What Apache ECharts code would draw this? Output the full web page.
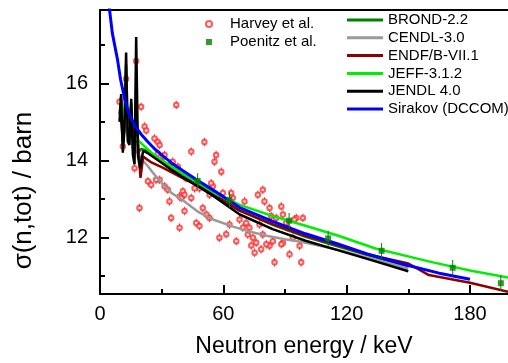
<!DOCTYPE html>
<html><head><meta charset="utf-8">
<script src="https://cdn.jsdelivr.net/npm/echarts@6/dist/echarts.min.js"></script>
<style>html,body{margin:0;padding:0;background:#fff}#c{width:508px;height:363px}</style>
</head><body><div id="c"></div>
<script>
// ---- data ----
const xTicks = [0, 60, 120, 180];
const xMinor = [30, 90, 150];
const yTicks = [12, 14, 16];
const yMinor = [11, 13, 15, 17];

const siraX = [4.2, 6, 8.5, 10, 12, 14, 17, 20, 23, 27, 31, 35, 40, 47, 56, 68, 84, 100, 115, 130, 150, 165, 180];
const siraY = [18.1, 17.3, 16.62, 16.1, 15.6, 15.22, 14.9, 14.68, 14.5, 14.28, 14.1, 13.93, 13.75, 13.5, 13.2, 12.78, 12.42, 12.1, 11.85, 11.58, 11.28, 11.08, 10.92];

const jeffX = [10, 12, 14, 17, 20, 25, 30, 40, 48, 56, 68, 84, 100, 116, 134, 162, 180, 198.5];
const jeffY = [15.5, 15.1, 14.85, 14.62, 14.45, 14.2, 14.0, 13.67, 13.42, 13.15, 12.85, 12.56, 12.31, 12.05, 11.72, 11.36, 11.15, 10.97];

const jendlX = [9.5, 10.3, 11.1, 11.9, 12.7, 13.5, 14.3, 15.2, 16.0, 16.8, 17.6, 18.5, 19.5, 21, 23, 27, 31, 35, 40, 48, 56, 68, 84, 100, 116, 130, 150];
const jendlY = [15.0, 15.72, 14.2, 14.8, 16.8, 14.5, 14.4, 15.6, 14.15, 13.9, 17.2, 14.1, 13.8, 14.25, 14.2, 14.05, 13.9, 13.75, 13.58, 13.32, 13.05, 12.6, 12.22, 11.92, 11.67, 11.45, 11.13];

const brondX = [9.5, 10.3, 11.1, 11.9, 12.7, 13.5, 15.2, 16.0, 17.6, 18.5, 20, 23, 27, 31, 40, 48, 56, 68, 84, 100, 116, 130, 150];
const brondY = [15.2, 15.6, 14.4, 14.9, 16.5, 14.7, 15.5, 14.3, 15.0, 14.2, 14.3, 14.25, 14.1, 13.97, 13.65, 13.4, 13.12, 12.7, 12.33, 12.02, 11.77, 11.55, 11.25];

const endfX = [10, 11.1, 12.7, 14, 15.2, 16.8, 17.6, 19.7, 21, 25, 31, 40, 48, 56, 68, 84, 100, 116, 130, 150, 160, 180, 198.5];
const endfY = [15.2, 14.5, 15.6, 14.5, 15.2, 14.2, 15.2, 13.55, 14.1, 13.95, 13.8, 13.55, 13.33, 13.08, 12.7, 12.35, 12.05, 11.8, 11.57, 11.33, 11.03, 10.83, 10.6];

const cendlX = [10.5, 11.5, 13.4, 15, 17, 20, 23, 27, 31, 35, 40, 48, 56, 64, 72, 81, 90, 97, 107, 117, 130, 150];
const cendlY = [15.2, 15.0, 14.64, 14.45, 14.3, 14.05, 13.87, 13.6, 13.36, 13.15, 12.98, 12.66, 12.45, 12.3, 12.17, 12.05, 11.96, 11.9, 11.79, 11.67, 11.48, 11.2];

const harveyX = [17.6, 12.7, 9.5, 20.0, 37.1, 21.7, 22.5, 26.5, 28.1, 29.0, 50.8, 44.4, 56.5, 55.7, 34.6, 37.9, 16.8, 37.1, 59.0, 43.6, 23.3, 24.9, 29.0, 31.4, 33.0, 48.4, 54.9, 53.3, 59.8, 63.8, 64.6, 79.2, 76.8, 70.3, 40.3, 38.7, 44.4, 19.2, 34.6, 38.7, 41.1, 50.0, 51.7, 46.8, 48.4, 53.3, 58.1, 61.4, 66.3, 67.9, 71.1, 72.7, 74.4, 75.2, 78.4, 82.5, 83.3, 85.7, 88.2, 89.0, 90.6, 91.4, 93.8, 95.5, 98.7, 97.1, 84.1, 82.5, 84.9, 92.2, 97.9, 89.0, 79.2, 76.0, 69.5, 63.0, 80.0, 94.6, 77.6, 71.9, 73.6, 80.9, 88.2, 28.1, 30.6, 35.4, 41.9, 46.0, 54.1, 41.1, 39.5, 33.8, 27.3, 11.1, 31.4];
const harveyY = [16.58, 16.11, 15.52, 15.39, 15.44, 14.88, 14.78, 14.57, 14.48, 14.40, 14.48, 14.23, 14.14, 13.97, 13.93, 13.84, 13.80, 13.75, 13.71, 13.54, 13.46, 13.37, 13.50, 13.33, 13.24, 13.28, 13.33, 13.11, 13.16, 13.16, 13.03, 13.24, 13.11, 12.94, 13.20, 13.07, 13.03, 12.77, 12.51, 12.26, 12.69, 12.77, 12.60, 12.38, 12.30, 12.51, 12.00, 12.09, 11.91, 12.47, 12.38, 12.26, 12.00, 11.61, 11.70, 12.77, 12.56, 12.51, 12.81, 12.60, 12.38, 12.26, 12.00, 12.51, 12.51, 11.79, 11.91, 11.79, 11.36, 11.57, 11.36, 11.87, 12.08, 11.87, 12.26, 12.34, 12.94, 12.47, 12.34, 12.08, 11.80, 11.83, 11.83, 14.18, 14.10, 13.97, 13.54, 13.28, 13.41, 13.11, 13.03, 12.94, 13.50, 14.36, 14.14];
const harveyErr = 0.11;

const poenitzX = [47.5, 63, 92, 111, 137, 171.6, 195];
const poenitzY = [13.47, 12.98, 12.44, 11.98, 11.66, 11.22, 10.82];
const poenitzErr = 0.2;

// ---- build ----
const zip = (a, b) => a.map((v, i) => [v, b[i]]);
const zipE = (a, b, e) => a.map((v, i) => [v, b[i], e]);
const FONT = 'Liberation Sans';

function errBar(color) {
  return function (params, api) {
    const x = api.value(0), y = api.value(1), e = api.value(2);
    const p1 = api.coord([x, y + e]);
    const p2 = api.coord([x, y - e]);
    return { type: 'line', shape: { x1: p1[0], y1: p1[1], x2: p2[0], y2: p2[1] },
             style: { stroke: color, lineWidth: 1 } };
  };
}

function lineSeries(name, xs, ys, color, width, z) {
  return { name, type: 'line', data: zip(xs, ys), symbol: 'none', smooth: false,
           lineStyle: { color, width }, itemStyle: { color }, z: z, animation: false };
}

const chart = echarts.init(document.getElementById('c'), null, { renderer: 'canvas' });
const xMin = 0, xMax = 198.5, yMin = 10.54, yMax = 17.9;
const axisLineStyle = { color: '#000', width: 2 };
const lineNames = ['BROND-2.2', 'CENDL-3.0', 'ENDF/B-VII.1', 'JEFF-3.1.2', 'JENDL 4.0', 'Sirakov (DCCOM)'];

chart.setOption({
  animation: false,
  backgroundColor: '#fff',
  grid: { left: 100, right: 0, top: 10, bottom: 66 },
  xAxis: [
    { type: 'value', min: xMin, max: xMax, position: 'bottom',
      name: 'Neutron energy / keV', nameLocation: 'middle', nameGap: 41,
      nameTextStyle: { fontFamily: FONT, fontSize: 23, color: '#000' },
      axisLine: { lineStyle: axisLineStyle },
      axisTick: { inside: true, length: 9, lineStyle: { color: '#000', width: 2 }, customValues: xTicks },
      axisLabel: { customValues: xTicks, margin: 10, fontFamily: FONT, fontSize: 20, color: '#000' },
      splitLine: { show: false } },
    { type: 'value', min: xMin, max: xMax, position: 'bottom',
      axisLine: { show: false },
      axisTick: { inside: true, length: 5, lineStyle: { color: '#000', width: 2 }, customValues: xMinor },
      axisLabel: { show: false }, splitLine: { show: false } },
    { type: 'value', min: xMin, max: xMax, position: 'top',
      axisLine: { lineStyle: axisLineStyle }, axisTick: { show: false },
      axisLabel: { show: false }, splitLine: { show: false } }
  ],
  yAxis: [
    { type: 'value', min: yMin, max: yMax, position: 'left',
      name: 'σ(n,tot) / barn', nameLocation: 'middle', nameGap: 63, nameRotate: 90,
      nameTextStyle: { fontFamily: FONT, fontSize: 26, color: '#000', padding: [0, 77, 0, 0] },
      axisLine: { lineStyle: axisLineStyle },
      axisTick: { inside: true, length: 9, lineStyle: { color: '#000', width: 2 }, customValues: yTicks },
      axisLabel: { customValues: yTicks, margin: 12, fontFamily: FONT, fontSize: 20, color: '#000' },
      splitLine: { show: false } },
    { type: 'value', min: yMin, max: yMax, position: 'left',
      axisLine: { show: false },
      axisTick: { inside: true, length: 5, lineStyle: { color: '#000', width: 2 }, customValues: yMinor },
      axisLabel: { show: false }, splitLine: { show: false } }
  ],
  legend: [
    { data: [{ name: 'Harvey et al.', icon: 'emptyCircle' },
             { name: 'Poenitz et al.', icon: 'path://M0,0L10,0L10,10L0,10Z' }],
      orient: 'vertical', left: 205, top: 16, padding: 0,
      itemWidth: 32, itemHeight: 6, itemGap: 2,
      textStyle: { fontFamily: FONT, fontSize: 15, lineHeight: 16, color: '#000' } },
    { data: lineNames.map(n => ({ name: n, icon: 'rect' })),
      orient: 'vertical', left: 347, top: 12, padding: 0, itemWidth: 36, itemHeight: 3, itemGap: 1.8,
      textStyle: { fontFamily: FONT, fontSize: 15, lineHeight: 16, color: '#000' } }
  ],
  series: [
    { name: 'hErr', type: 'custom', renderItem: errBar('#ff3030'), data: zipE(harveyX, harveyY, harveyErr), z: 2, silent: true },
    { name: 'Harvey et al.', type: 'scatter', data: zip(harveyX, harveyY), symbol: 'emptyCircle', symbolSize: 4.5,
      itemStyle: { color: '#ff3030', borderWidth: 1 }, z: 3 },
    lineSeries('BROND-2.2', brondX, brondY, '#008000', 2.5, 4),
    lineSeries('CENDL-3.0', cendlX, cendlY, '#9a9a9a', 2.5, 4),
    lineSeries('ENDF/B-VII.1', endfX, endfY, '#8b0000', 2.5, 4),
    lineSeries('JEFF-3.1.2', jeffX, jeffY, '#00ee00', 2.5, 5),
    lineSeries('JENDL 4.0', jendlX, jendlY, '#000000', 2.5, 5),
    lineSeries('Sirakov (DCCOM)', siraX, siraY, '#0000ff', 3, 6),
    { name: 'pErr', type: 'custom', renderItem: errBar('#008000'), data: zipE(poenitzX, poenitzY, poenitzErr), z: 7, silent: true },
    { name: 'Poenitz et al.', type: 'scatter', data: zip(poenitzX, poenitzY), symbol: 'rect', symbolSize: 6,
      itemStyle: { color: '#008000' }, z: 8 }
  ]
});
</script></body></html>
